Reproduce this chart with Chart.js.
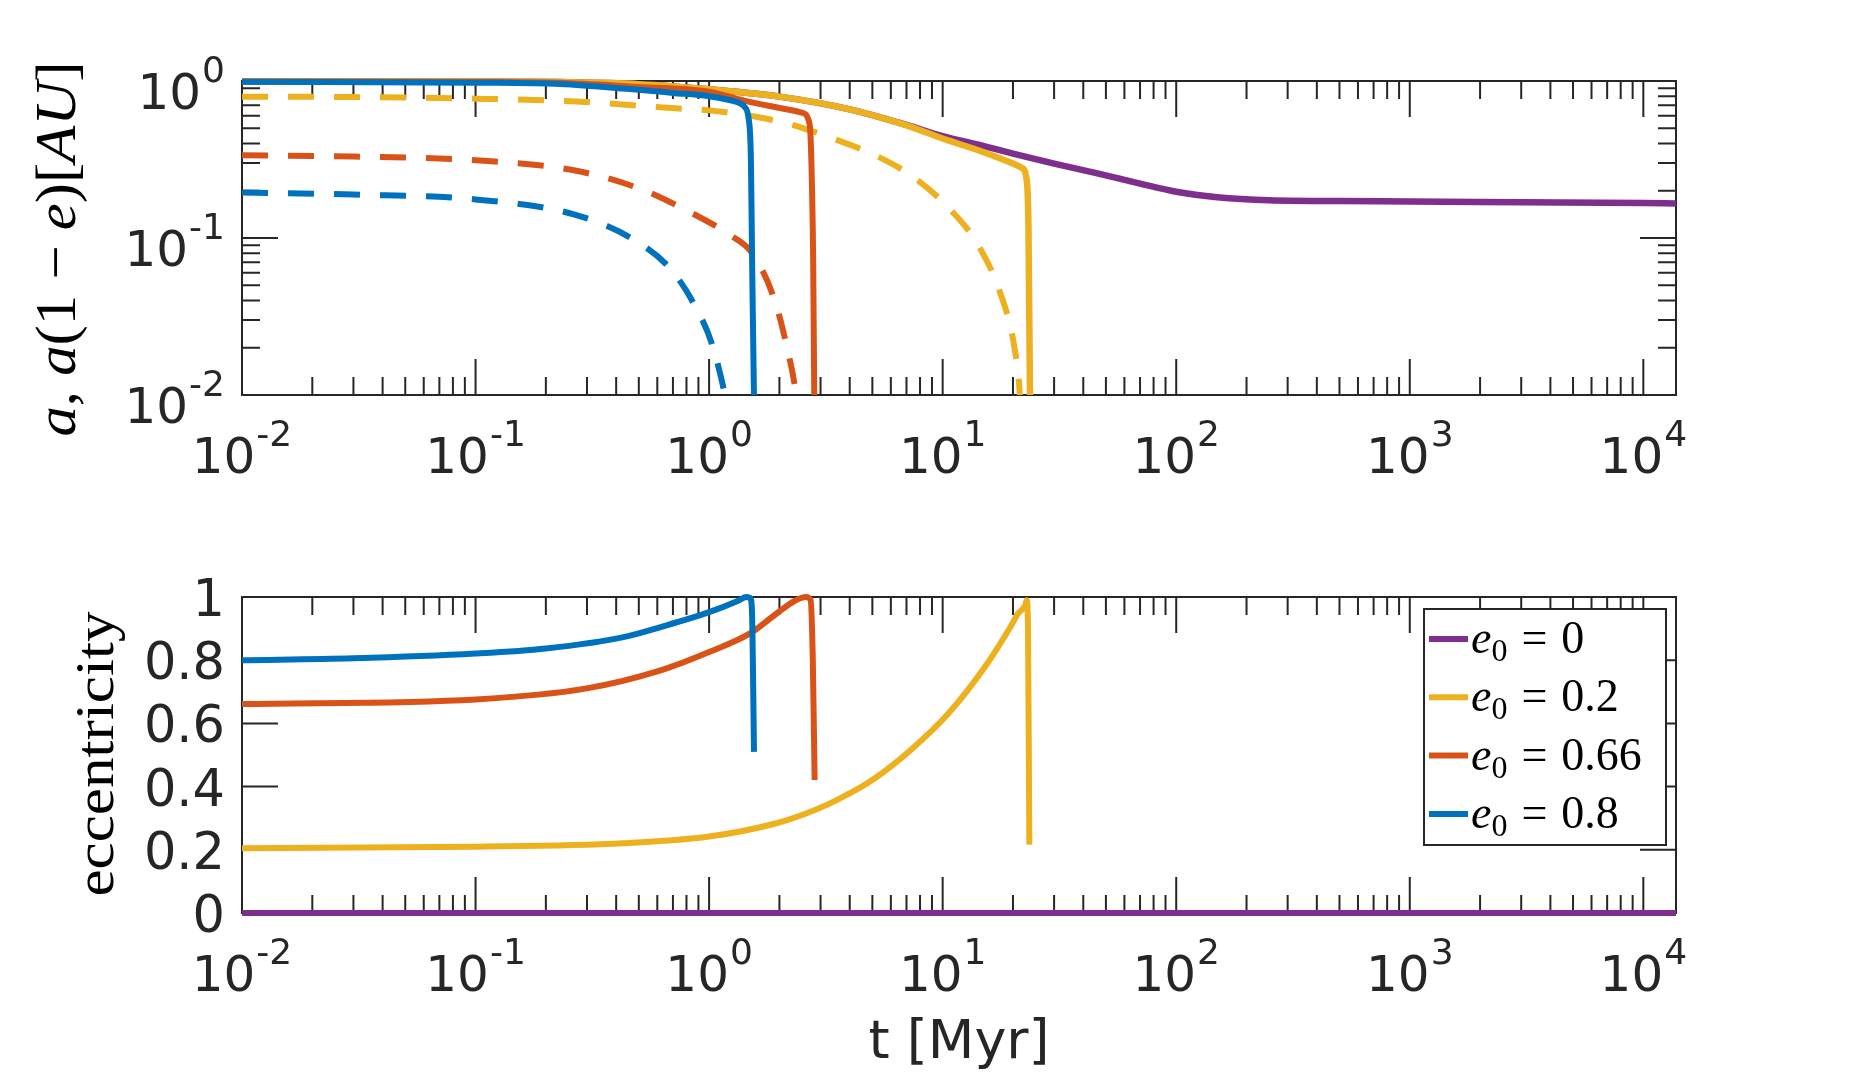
<!DOCTYPE html>
<html>
<head>
<meta charset="utf-8">
<script src="https://cdn.jsdelivr.net/npm/chart.js@4.4.1/dist/chart.umd.min.js"></script>
<style>
  html, body { margin: 0; padding: 0; background: #fff; }
  #wrap { position: relative; width: 1853px; height: 1090px; overflow: hidden; }
  canvas { position: absolute; left: 0; }
  #topChart { top: 0; }
  #bottomChart { top: 540px; }
</style>
</head>
<body>
<div id="wrap">
  <canvas id="topChart" width="1853" height="540"></canvas>
  <canvas id="bottomChart" width="1853" height="550"></canvas>
</div>
<script>
// ---- data (t in Myr) ----
// semi-major axis a [AU]
const tA0  = [0.01, 0.1, 0.23, 0.5, 1, 2, 4, 7, 10, 15, 20, 30, 45, 70, 100, 150, 250, 500, 1000, 3000, 10000, 13800];
const aE0  = [0.995, 0.993, 0.984, 0.955, 0.885, 0.795, 0.66, 0.525, 0.445, 0.385, 0.345, 0.298, 0.26, 0.222, 0.197, 0.182, 0.174, 0.172, 0.171, 0.169, 0.167, 0.166];
const tA2  = [0.01, 0.1, 0.23, 0.5, 1, 2, 4, 7, 10, 15, 20, 21.8, 22.9, 23.3, 23.65, 23.8];
const aE2  = [0.995, 0.993, 0.984, 0.955, 0.885, 0.795, 0.66, 0.522, 0.43, 0.352, 0.298, 0.28, 0.234, 0.118, 0.01, 0.006];
const tA66 = [0.01, 0.1, 0.23, 0.47, 1, 1.415, 1.84, 2.23, 2.49, 2.69, 2.74, 2.79, 2.82, 2.84];
const aE66 = [0.993, 0.985, 0.973, 0.92, 0.855, 0.75, 0.69, 0.653, 0.628, 0.537, 0.314, 0.072, 0.01, 0.006];
const tA8  = [0.01, 0.1, 0.23, 0.47, 0.7, 1, 1.22, 1.36, 1.415, 1.479, 1.51, 1.528, 1.556, 1.57];
const aE8  = [0.99, 0.975, 0.957, 0.885, 0.84, 0.80, 0.757, 0.72, 0.687, 0.565, 0.314, 0.072, 0.01, 0.006];
// pericentre a(1-e) [AU]
const tQ2  = [0.01, 0.03, 0.1, 0.27, 0.72, 1, 1.5, 2.23, 3.25, 5.1, 7.45, 10.5, 14.2, 17.7, 20.3, 21.4, 21.7];
const qE2  = [0.795, 0.79, 0.772, 0.74, 0.67, 0.65, 0.6, 0.53, 0.44, 0.338, 0.246, 0.158, 0.09, 0.044, 0.02, 0.01, 0.006];
const tQ66 = [0.01, 0.03, 0.1, 0.27, 0.51, 0.8, 1.22, 1.53, 1.91, 2.14, 2.36, 2.45];
const qE66 = [0.336, 0.33, 0.313, 0.268, 0.205, 0.15, 0.105, 0.08, 0.04, 0.021, 0.01, 0.006];
const tQ8  = [0.01, 0.03, 0.1, 0.27, 0.49, 0.69, 0.87, 1.03, 1.17, 1.25];
const qE8  = [0.195, 0.189, 0.176, 0.14, 0.095, 0.0625, 0.037, 0.021, 0.01, 0.006];
// eccentricity
const tEc0  = [0.01, 13800];
const ecE0  = [0, 0];
const tEc2  = [0.01, 0.1, 0.43, 1, 1.94, 2.84, 3.64, 5.0, 7.3, 10.6, 15.5, 19.5, 21, 22.6, 22.9, 23.2, 23.5];
const ecE2  = [0.205, 0.21, 0.221, 0.242, 0.284, 0.326, 0.363, 0.421, 0.516, 0.632, 0.789, 0.905, 0.947, 0.975, 0.99, 0.9, 0.216];
const tEc66 = [0.01, 0.1, 0.295, 0.62, 1, 1.49, 1.94, 2.34, 2.6, 2.72, 2.78, 2.83];
const ecE66 = [0.661, 0.676, 0.71, 0.768, 0.826, 0.884, 0.947, 0.989, 1.0, 0.99, 0.8, 0.421];
const tEc8  = [0.01, 0.03, 0.1, 0.2, 0.43, 0.62, 1, 1.34, 1.44, 1.5, 1.525, 1.557];
const ecE8  = [0.80, 0.806, 0.821, 0.837, 0.873, 0.905, 0.952, 0.989, 1.0, 0.997, 0.96, 0.51];

const legendLabels = ['0', '0.2', '0.66', '0.8'];
const seriesColors = ['#7E2F8E', '#EDB120', '#D95319', '#0072BD'];

const xTickValues = [0.01, 0.1, 1, 10, 100, 1000, 10000];
const xTickExps   = ['-2', '-1', '0', '1', '2', '3', '4'];
const yTopTickValues = [0.01, 0.1, 1];
const yTopTickExps   = ['-2', '-1', '0'];
const yBotTickValues = [0, 0.2, 0.4, 0.6, 0.8, 1];
const yBotTickLabels = ['0', '0.2', '0.4', '0.6', '0.8', '1'];

const xTitle = 't [Myr]';
const yBotTitle = 'eccentricity';
// a, a(1 - e) [AU] as (text, italic) pieces
const yTopTitle = [['a', true], [', ', false], ['a', true], ['(1 \u2212 ', false], ['e', true], [')', false], ['[', false], ['AU', true], [']', false]];

// ---- drawing helpers ----
const AXIS_COLOR = '#262626';
const SANS = '"DejaVu Sans", sans-serif';
const SERIF = '"Liberation Serif", "DejaVu Serif", serif';
const MAJOR_LEN = 36, MINOR_LEN = 18;
const BASE_PX = 50, EXP_PX = 36, EXP_RISE = 27;

function pts(ts, vs) {
    return ts.map((t, i) => ({ x: t, y: vs[i] }));
}

function logTicks(min, max) {
    const major = [], minor = [];
    for (let k = Math.floor(Math.log10(min)); k <= Math.ceil(Math.log10(max)); k++) {
        for (let m = 1; m <= 9; m++) {
            const v = m * Math.pow(10, k);
            if (v < min * 0.999 || v > max * 1.001) continue;
            (m === 1 ? major : minor).push(v);
        }
    }
    return { major, minor };
}

function powerLabel(ctx, exp, px, baseY, align) {
    ctx.font = BASE_PX + 'px ' + SANS;
    const wb = ctx.measureText('10').width;
    ctx.font = EXP_PX + 'px ' + SANS;
    const we = ctx.measureText(exp).width;
    const total = wb + 1 + we;
    const left = align === 'center' ? px - total / 2 : px - total;
    ctx.font = BASE_PX + 'px ' + SANS;
    ctx.fillText('10', left, baseY);
    ctx.font = EXP_PX + 'px ' + SANS;
    ctx.fillText(exp, left + wb + 1, baseY - EXP_RISE);
}

function richVertical(ctx, parts, size, baseX, centerY, targetLen) {
    const fontOf = it => (it ? 'italic ' : '') + size + 'px ' + SERIF;
    let total = 0;
    parts.forEach(p => { ctx.font = fontOf(p[1]); total += ctx.measureText(p[0]).width; });
    ctx.save();
    ctx.translate(baseX, centerY);
    ctx.rotate(-Math.PI / 2);
    ctx.scale(targetLen / total, 1);
    let x = -total / 2;
    parts.forEach(p => {
        ctx.font = fontOf(p[1]);
        ctx.fillText(p[0], x, 0);
        x += ctx.measureText(p[0]).width;
    });
    ctx.restore();
}

function drawLegend(chart) {
    const { ctx, chartArea: ca } = chart;
    const box = { left: ca.right - 252, top: ca.top + 12, w: 242, h: 236 };
    ctx.save();
    ctx.fillStyle = '#fff';
    ctx.fillRect(box.left, box.top, box.w, box.h);
    ctx.strokeStyle = AXIS_COLOR;
    ctx.lineWidth = 2;
    ctx.strokeRect(box.left, box.top, box.w, box.h);
    ctx.textAlign = 'left';
    ctx.textBaseline = 'alphabetic';
    legendLabels.forEach((lab, i) => {
        const cy = box.top + 30 + i * 58.3;
        ctx.strokeStyle = seriesColors[i];
        ctx.lineWidth = 6;
        ctx.beginPath();
        ctx.moveTo(box.left + 5, cy);
        ctx.lineTo(box.left + 44, cy);
        ctx.stroke();
        const by = cy + 14;
        ctx.fillStyle = '#000';
        let x = box.left + 47;
        ctx.font = 'italic 46px ' + SERIF;
        ctx.fillText('e', x, by);
        x += ctx.measureText('e').width;
        ctx.font = '32px ' + SERIF;
        ctx.fillText('0', x, by + 8);
        x += ctx.measureText('0').width + 14;
        ctx.font = '46px ' + SERIF;
        ctx.fillText('=', x, by);
        x += ctx.measureText('=').width + 14;
        ctx.fillText(lab, x, by);
    });
    ctx.restore();
}

function axesPlugin(cfg) {
    return {
        id: 'matlabAxes',
        beforeDatasetsDraw(chart) {
            const { ctx, chartArea: ca } = chart;
            const xs = chart.scales.x, ys = chart.scales.y;
            ctx.save();
            ctx.strokeStyle = AXIS_COLOR;
            ctx.lineWidth = 2;
            ctx.beginPath();
            const vTick = (v, len) => {
                const px = xs.getPixelForValue(v);
                ctx.moveTo(px, ca.bottom); ctx.lineTo(px, ca.bottom - len);
                ctx.moveTo(px, ca.top); ctx.lineTo(px, ca.top + len);
            };
            const hTick = (v, len) => {
                const py = ys.getPixelForValue(v);
                ctx.moveTo(ca.left, py); ctx.lineTo(ca.left + len, py);
                ctx.moveTo(ca.right, py); ctx.lineTo(ca.right - len, py);
            };
            const xt = logTicks(xs.min, xs.max);
            xt.major.forEach(v => vTick(v, MAJOR_LEN));
            xt.minor.forEach(v => vTick(v, MINOR_LEN));
            if (cfg.yLog) {
                const yt = logTicks(ys.min, ys.max);
                yt.major.forEach(v => hTick(v, MAJOR_LEN));
                yt.minor.forEach(v => hTick(v, MINOR_LEN));
            } else {
                cfg.yTicks.forEach(v => hTick(v, MAJOR_LEN));
            }
            ctx.stroke();
            ctx.strokeRect(ca.left, ca.top, ca.right - ca.left, ca.bottom - ca.top);
            ctx.restore();
        },
        afterDraw(chart) {
            const { ctx, chartArea: ca } = chart;
            const xs = chart.scales.x, ys = chart.scales.y;
            ctx.save();
            ctx.fillStyle = AXIS_COLOR;
            ctx.textAlign = 'left';
            ctx.textBaseline = 'alphabetic';
            xTickValues.forEach((v, i) => powerLabel(ctx, xTickExps[i], xs.getPixelForValue(v), ca.bottom + 78, 'center'));
            if (cfg.yLog) {
                cfg.yTicks.forEach((v, i) => powerLabel(ctx, cfg.yLabels[i], ca.left - 17, ys.getPixelForValue(v) + 28, 'right'));
            } else {
                ctx.font = '51px ' + SANS;
                ctx.textAlign = 'right';
                cfg.yTicks.forEach((v, i) => ctx.fillText(cfg.yLabels[i], ca.left - 17, ys.getPixelForValue(v) + 19));
            }
            ctx.fillStyle = '#000';
            ctx.textAlign = 'left';
            if (cfg.yRich) {
                richVertical(ctx, cfg.yRich, 58, 75, 249, 375);
            } else {
                richVertical(ctx, [[cfg.yTitle, false]], 54, 113, ca.top + 157, 285);
            }
            if (cfg.xTitle) {
                ctx.fillStyle = AXIS_COLOR;
                ctx.font = '54px ' + SANS;
                ctx.textAlign = 'center';
                ctx.fillText(cfg.xTitle, (ca.left + ca.right) / 2, ca.bottom + 145);
            }
            ctx.restore();
            if (cfg.legend) drawLegend(chart);
        }
    };
}

// Chart.js paints dataset 0 last (on top), so lists below go top-most first
function lineSet(data, color, dashed, clip, width) {
    return {
        data: data,
        borderColor: color,
        borderWidth: width || 6,
        borderDash: dashed ? [26, 20] : [],
        borderCapStyle: 'butt',
        borderJoinStyle: 'round',
        cubicInterpolationMode: 'monotone',
        pointRadius: 0,
        fill: false,
        clip: clip
    };
}

const xScale = { type: 'logarithmic', min: 0.01, max: 13800, display: false };

const topClip = { left: 0, top: 4, right: 0, bottom: 0 };
new Chart(document.getElementById('topChart'), {
    type: 'line',
    data: {
        datasets: [
            lineSet(pts(tQ8, qE8), seriesColors[3], true, topClip),
            lineSet(pts(tA8, aE8), seriesColors[3], false, topClip),
            lineSet(pts(tQ66, qE66), seriesColors[2], true, topClip),
            lineSet(pts(tA66, aE66), seriesColors[2], false, topClip),
            lineSet(pts(tQ2, qE2), seriesColors[1], true, topClip),
            lineSet(pts(tA2, aE2), seriesColors[1], false, topClip, 6.5),
            lineSet(pts(tA0, aE0), seriesColors[0], false, topClip, 6.5)
        ]
    },
    options: {
        responsive: false,
        animation: false,
        events: [],
        layout: { padding: { left: 242, top: 81, right: 177, bottom: 145 } },
        scales: {
            x: xScale,
            y: { type: 'logarithmic', min: 0.01, max: 1, display: false }
        },
        plugins: { legend: { display: false }, tooltip: { enabled: false } }
    },
    plugins: [axesPlugin({ yLog: true, yTicks: yTopTickValues, yLabels: yTopTickExps, yRich: yTopTitle })]
});

const botClip = { left: 0, top: 4, right: 0, bottom: 4 };
new Chart(document.getElementById('bottomChart'), {
    type: 'line',
    data: {
        datasets: [
            lineSet(pts(tEc8, ecE8), seriesColors[3], false, botClip),
            lineSet(pts(tEc66, ecE66), seriesColors[2], false, botClip),
            lineSet(pts(tEc2, ecE2), seriesColors[1], false, botClip),
            lineSet(pts(tEc0, ecE0), seriesColors[0], false, botClip)
        ]
    },
    options: {
        responsive: false,
        animation: false,
        events: [],
        layout: { padding: { left: 242, top: 57, right: 177, bottom: 177 } },
        scales: {
            x: Object.assign({}, xScale),
            y: { type: 'linear', min: 0, max: 1, display: false }
        },
        plugins: { legend: { display: false }, tooltip: { enabled: false } }
    },
    plugins: [axesPlugin({ yLog: false, yTicks: yBotTickValues, yLabels: yBotTickLabels, yTitle: yBotTitle, xTitle: xTitle, legend: true })]
});
</script>
</body>
</html>
